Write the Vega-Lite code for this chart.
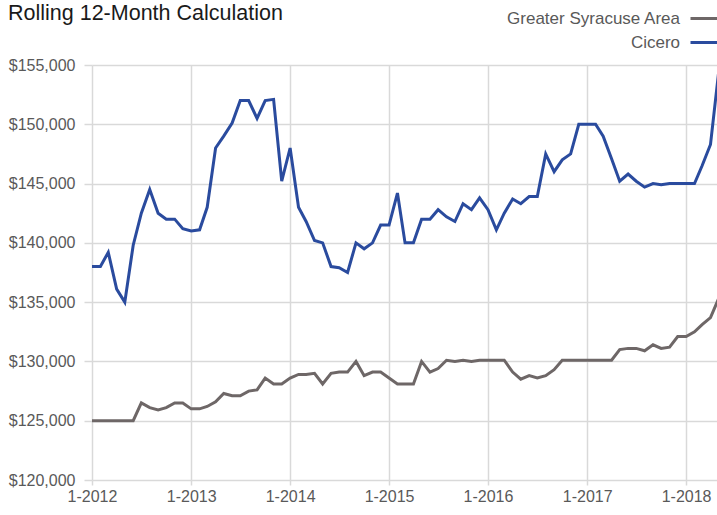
{
  "$schema": "https://vega.github.io/schema/vega-lite/v6.json",
  "autosize": {"type": "none"},
  "padding": {"left": 92, "top": 65, "right": 0, "bottom": 35},
  "width": 625,
  "height": 415,
  "background": "white",
  "title": {
    "text": "Rolling 12-Month Calculation",
    "anchor": "start",
    "frame": "group",
    "font": "Liberation Sans",
    "fontSize": 21.5,
    "fontWeight": "normal",
    "color": "#1a1a1a",
    "dx": -84,
    "offset": 0,
    "dy": 21
  },
  "config": {
    "view": {"stroke": null},
    "axis": {
      "labelFont": "Liberation Sans",
      "labelFontSize": 16,
      "labelColor": "#595959",
      "gridColor": "#d9d9d9",
      "gridWidth": 1.5,
      "tickColor": "#d9d9d9",
      "tickWidth": 1.5,
      "domain": false,
      "title": null
    }
  },
  "data": {
    "values": [
      {"d": "2012-01-01", "Greater Syracuse Area": 125000, "Cicero": 138000},
      {"d": "2012-02-01", "Greater Syracuse Area": 125000, "Cicero": 138000},
      {"d": "2012-03-01", "Greater Syracuse Area": 125000, "Cicero": 139200},
      {"d": "2012-04-01", "Greater Syracuse Area": 125000, "Cicero": 136100},
      {"d": "2012-05-01", "Greater Syracuse Area": 125000, "Cicero": 135000},
      {"d": "2012-06-01", "Greater Syracuse Area": 125000, "Cicero": 139800},
      {"d": "2012-07-01", "Greater Syracuse Area": 126500, "Cicero": 142500},
      {"d": "2012-08-01", "Greater Syracuse Area": 126100, "Cicero": 144500},
      {"d": "2012-09-01", "Greater Syracuse Area": 125900, "Cicero": 142500},
      {"d": "2012-10-01", "Greater Syracuse Area": 126100, "Cicero": 142000},
      {"d": "2012-11-01", "Greater Syracuse Area": 126500, "Cicero": 142000},
      {"d": "2012-12-01", "Greater Syracuse Area": 126500, "Cicero": 141200},
      {"d": "2013-01-01", "Greater Syracuse Area": 126000, "Cicero": 141000},
      {"d": "2013-02-01", "Greater Syracuse Area": 126000, "Cicero": 141100},
      {"d": "2013-03-01", "Greater Syracuse Area": 126200, "Cicero": 143000},
      {"d": "2013-04-01", "Greater Syracuse Area": 126600, "Cicero": 148000},
      {"d": "2013-05-01", "Greater Syracuse Area": 127300, "Cicero": 149000},
      {"d": "2013-06-01", "Greater Syracuse Area": 127100, "Cicero": 150100},
      {"d": "2013-07-01", "Greater Syracuse Area": 127100, "Cicero": 152000},
      {"d": "2013-08-01", "Greater Syracuse Area": 127500, "Cicero": 152000},
      {"d": "2013-09-01", "Greater Syracuse Area": 127600, "Cicero": 150500},
      {"d": "2013-10-01", "Greater Syracuse Area": 128600, "Cicero": 152000},
      {"d": "2013-11-01", "Greater Syracuse Area": 128100, "Cicero": 152100},
      {"d": "2013-12-01", "Greater Syracuse Area": 128100, "Cicero": 145200},
      {"d": "2014-01-01", "Greater Syracuse Area": 128600, "Cicero": 148000},
      {"d": "2014-02-01", "Greater Syracuse Area": 128900, "Cicero": 143000},
      {"d": "2014-03-01", "Greater Syracuse Area": 128900, "Cicero": 141800},
      {"d": "2014-04-01", "Greater Syracuse Area": 129000, "Cicero": 140200},
      {"d": "2014-05-01", "Greater Syracuse Area": 128100, "Cicero": 140000},
      {"d": "2014-06-01", "Greater Syracuse Area": 129000, "Cicero": 138000},
      {"d": "2014-07-01", "Greater Syracuse Area": 129100, "Cicero": 137900},
      {"d": "2014-08-01", "Greater Syracuse Area": 129100, "Cicero": 137500},
      {"d": "2014-09-01", "Greater Syracuse Area": 130000, "Cicero": 140000},
      {"d": "2014-10-01", "Greater Syracuse Area": 128800, "Cicero": 139500},
      {"d": "2014-11-01", "Greater Syracuse Area": 129100, "Cicero": 140000},
      {"d": "2014-12-01", "Greater Syracuse Area": 129100, "Cicero": 141500},
      {"d": "2015-01-01", "Greater Syracuse Area": 128600, "Cicero": 141500},
      {"d": "2015-02-01", "Greater Syracuse Area": 128100, "Cicero": 144200},
      {"d": "2015-03-01", "Greater Syracuse Area": 128100, "Cicero": 140000},
      {"d": "2015-04-01", "Greater Syracuse Area": 128100, "Cicero": 140000},
      {"d": "2015-05-01", "Greater Syracuse Area": 130000, "Cicero": 142000},
      {"d": "2015-06-01", "Greater Syracuse Area": 129100, "Cicero": 142000},
      {"d": "2015-07-01", "Greater Syracuse Area": 129400, "Cicero": 142800},
      {"d": "2015-08-01", "Greater Syracuse Area": 130100, "Cicero": 142200},
      {"d": "2015-09-01", "Greater Syracuse Area": 130000, "Cicero": 141800},
      {"d": "2015-10-01", "Greater Syracuse Area": 130100, "Cicero": 143300},
      {"d": "2015-11-01", "Greater Syracuse Area": 130000, "Cicero": 142800},
      {"d": "2015-12-01", "Greater Syracuse Area": 130100, "Cicero": 143800},
      {"d": "2016-01-01", "Greater Syracuse Area": 130100, "Cicero": 142800},
      {"d": "2016-02-01", "Greater Syracuse Area": 130100, "Cicero": 141100},
      {"d": "2016-03-01", "Greater Syracuse Area": 130100, "Cicero": 142500},
      {"d": "2016-04-01", "Greater Syracuse Area": 129100, "Cicero": 143700},
      {"d": "2016-05-01", "Greater Syracuse Area": 128500, "Cicero": 143300},
      {"d": "2016-06-01", "Greater Syracuse Area": 128800, "Cicero": 143900},
      {"d": "2016-07-01", "Greater Syracuse Area": 128600, "Cicero": 143900},
      {"d": "2016-08-01", "Greater Syracuse Area": 128800, "Cicero": 147500},
      {"d": "2016-09-01", "Greater Syracuse Area": 129300, "Cicero": 146000},
      {"d": "2016-10-01", "Greater Syracuse Area": 130100, "Cicero": 147000},
      {"d": "2016-11-01", "Greater Syracuse Area": 130100, "Cicero": 147500},
      {"d": "2016-12-01", "Greater Syracuse Area": 130100, "Cicero": 150000},
      {"d": "2017-01-01", "Greater Syracuse Area": 130100, "Cicero": 150000},
      {"d": "2017-02-01", "Greater Syracuse Area": 130100, "Cicero": 150000},
      {"d": "2017-03-01", "Greater Syracuse Area": 130100, "Cicero": 149000},
      {"d": "2017-04-01", "Greater Syracuse Area": 130100, "Cicero": 147100},
      {"d": "2017-05-01", "Greater Syracuse Area": 131000, "Cicero": 145200},
      {"d": "2017-06-01", "Greater Syracuse Area": 131100, "Cicero": 145800},
      {"d": "2017-07-01", "Greater Syracuse Area": 131100, "Cicero": 145200},
      {"d": "2017-08-01", "Greater Syracuse Area": 130900, "Cicero": 144700},
      {"d": "2017-09-01", "Greater Syracuse Area": 131400, "Cicero": 145000},
      {"d": "2017-10-01", "Greater Syracuse Area": 131100, "Cicero": 144900},
      {"d": "2017-11-01", "Greater Syracuse Area": 131200, "Cicero": 145000},
      {"d": "2017-12-01", "Greater Syracuse Area": 132100, "Cicero": 145000},
      {"d": "2018-01-01", "Greater Syracuse Area": 132100, "Cicero": 145000},
      {"d": "2018-02-01", "Greater Syracuse Area": 132500, "Cicero": 145000},
      {"d": "2018-03-01", "Greater Syracuse Area": 133100, "Cicero": 146500},
      {"d": "2018-04-01", "Greater Syracuse Area": 133700, "Cicero": 148300},
      {"d": "2018-05-01", "Greater Syracuse Area": 135300, "Cicero": 154400}
    ]
  },
  "transform": [{"fold": ["Greater Syracuse Area", "Cicero"], "as": ["series", "value"]}],
  "mark": {"type": "line", "strokeWidth": 3, "clip": true},
  "encoding": {
    "x": {
      "field": "d",
      "type": "temporal",
      "scale": {
        "type": "utc",
        "domain": [
          {"year": 2012, "month": 1, "date": 1, "utc": true},
          {"year": 2018, "month": 4, "date": 25, "utc": true}
        ]
      },
      "axis": {
        "values": [
          {"year": 2012, "month": 1, "date": 1, "utc": true},
          {"year": 2013, "month": 1, "date": 1, "utc": true},
          {"year": 2014, "month": 1, "date": 1, "utc": true},
          {"year": 2015, "month": 1, "date": 1, "utc": true},
          {"year": 2016, "month": 1, "date": 1, "utc": true},
          {"year": 2017, "month": 1, "date": 1, "utc": true},
          {"year": 2018, "month": 1, "date": 1, "utc": true}
        ],
        "format": "%-m-%Y",
        "tickSize": 5,
        "labelPadding": 3,
        "labelDx": 4,
        "labelFlush": false,
        "labelOverlap": false,
        "grid": true
      }
    },
    "y": {
      "field": "value",
      "type": "quantitative",
      "scale": {"domain": [120000, 155000], "nice": false, "zero": false},
      "axis": {
        "values": [120000, 125000, 130000, 135000, 140000, 145000, 150000, 155000],
        "format": "$,.0f",
        "tickSize": 8,
        "labelPadding": 9,
        "grid": true
      }
    },
    "color": {
      "field": "series",
      "type": "nominal",
      "scale": {
        "domain": ["Greater Syracuse Area", "Cicero"],
        "range": ["#6e6767", "#2a4b9e"]
      },
      "legend": {
        "orient": "none",
        "legendX": 597,
        "legendY": -62,
        "title": null,
        "padding": 0,
        "symbolType": "stroke",
        "symbolSize": 784,
        "symbolStrokeWidth": 3,
        "labelAlign": "right",
        "labelOffset": -40,
        "labelFont": "Liberation Sans",
        "labelFontSize": 17,
        "labelColor": "#595959",
        "labelLimit": 0,
        "rowPadding": -4
      }
    }
  }
}
